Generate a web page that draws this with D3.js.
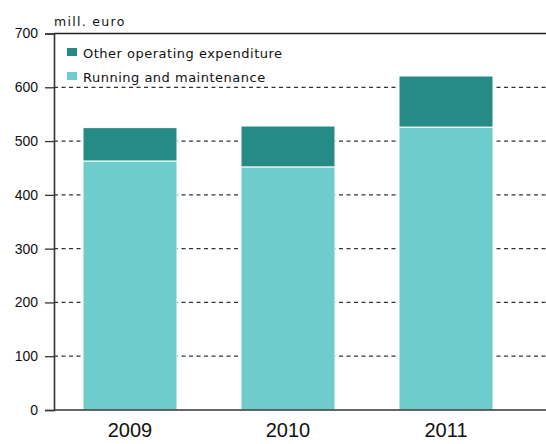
<!DOCTYPE html>
<html><head><meta charset="utf-8">
<script src="https://cdn.jsdelivr.net/npm/d3@7"></script>
<style>body{margin:0;background:#fff}svg{display:block}</style>
</head><body>
<script>
const years = ["2009", "2010", "2011"];
const running = [463, 452, 526];
const other = [62, 76, 95];
const yTicks = [0, 100, 200, 300, 400, 500, 600, 700];
const seriesNames = ["Other operating expenditure", "Running and maintenance"];
const colors = ["#268a86", "#6ecdcc"];

const W = 546, H = 444;
const svg = d3.select("body").append("svg").attr("width", W).attr("height", H);
const x0 = 54, x1 = 546, yTop = 33.5, yBot = 410;
const x = d3.scaleBand().domain(years).range([51, 525]).paddingInner(0.405).paddingOuter(0.2025);
const y = d3.scaleLinear().domain([0, 700]).range([yBot, yTop]);

// dashed grid
svg.append("g").selectAll("line").data(yTicks.filter(d => d > 0 && d < 700)).join("line")
  .attr("x1", x0).attr("x2", x1).attr("y1", d => y(d)).attr("y2", d => y(d))
  .attr("stroke", "#333").attr("stroke-width", 1.3).attr("stroke-dasharray", "4,3.5");

// bars
const data = years.map((yr, i) => ({yr, r: running[i], o: other[i]}));
const g = svg.append("g");
g.selectAll("rect.r").data(data).join("rect").attr("class", "r")
  .attr("x", d => x(d.yr)).attr("width", x.bandwidth())
  .attr("y", d => y(d.r)).attr("height", d => y(0) - y(d.r))
  .attr("fill", colors[1]).attr("stroke", "#fff").attr("stroke-width", 1);
g.selectAll("rect.o").data(data).join("rect").attr("class", "o")
  .attr("x", d => x(d.yr)).attr("width", x.bandwidth())
  .attr("y", d => y(d.r + d.o)).attr("height", d => y(d.r) - y(d.r + d.o))
  .attr("fill", colors[0]).attr("stroke", "#fff").attr("stroke-width", 1);

// top line
svg.append("line").attr("x1", x0).attr("x2", x1).attr("y1", yTop).attr("y2", yTop)
  .attr("stroke", "#222").attr("stroke-width", 1.6);

// y axis
const ya = svg.append("g").attr("transform", `translate(${x0},0)`)
  .call(d3.axisLeft(y).tickValues(yTicks).tickSize(9).tickPadding(7));
ya.select(".domain").attr("stroke", "#333").attr("stroke-width", 1.6);
ya.selectAll(".tick line").attr("stroke", "#333").attr("stroke-width", 1.3);
ya.selectAll("text").attr("font-family", "Liberation Sans, Arial, sans-serif")
  .attr("font-size", 14).attr("fill", "#111");

// x axis
const xa = svg.append("g").attr("transform", `translate(0,${yBot})`)
  .call(d3.axisBottom(x).tickSize(0).tickPadding(13));
xa.select(".domain").remove();
svg.append("line").attr("x1", x0).attr("x2", x1).attr("y1", yBot).attr("y2", yBot)
  .attr("stroke", "#333").attr("stroke-width", 1.6);
xa.selectAll("text").attr("font-family", "Liberation Sans, Arial, sans-serif")
  .attr("font-size", 20).attr("fill", "#111");

// unit label
svg.append("text").attr("x", 54).attr("y", 26).text("mill. euro")
  .attr("font-family", "DejaVu Sans, Verdana, sans-serif").attr("font-size", 12.5)
  .attr("letter-spacing", 1.3).attr("fill", "#111");

// legend
const lg = svg.append("g");
seriesNames.forEach((n, i) => {
  const yy = 48 + i * 24;
  lg.append("rect").attr("x", 67).attr("y", yy).attr("width", 10).attr("height", 8).attr("fill", colors[i]);
  lg.append("text").attr("x", 83).attr("y", yy + 9.5).text(n)
    .attr("font-family", "DejaVu Sans, Verdana, sans-serif").attr("font-size", 13)
    .attr("letter-spacing", 0.5).attr("fill", "#111");
});
</script>
</body></html>
